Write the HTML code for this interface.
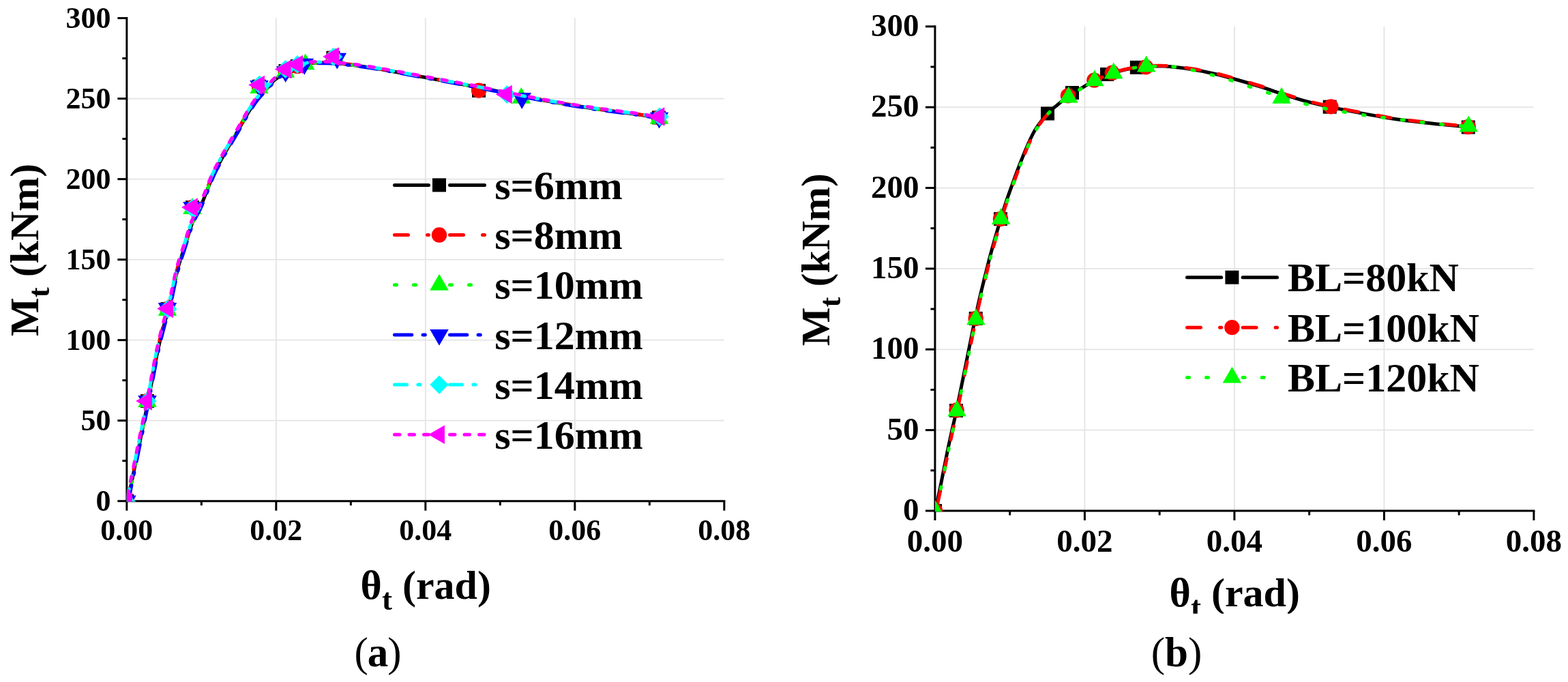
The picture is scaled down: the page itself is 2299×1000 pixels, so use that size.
<!DOCTYPE html>
<html><head><meta charset="utf-8"><title>Moment-rotation curves</title>
<style>html,body{margin:0;padding:0;background:#fff;}svg{display:block;}text{font-family:"Liberation Serif","Times New Roman",serif;}</style>
</head><body>
<svg width="2299" height="1000" viewBox="0 0 2299 1000">
<defs>
<clipPath id="cl"><rect x="185.85" y="0" width="896.15" height="735.6"/></clipPath>
<clipPath id="cr"><rect x="1370.9" y="0" width="899.1" height="750"/></clipPath>
<clipPath id="ct"><rect x="1600" y="800" width="400" height="99.7"/></clipPath>
</defs>
<rect width="2299" height="1000" fill="#ffffff"/>
<line x1="404.85" y1="26.58" x2="404.85" y2="734.7" stroke="#e4e4e4" stroke-width="1.8"/>
<line x1="623.85" y1="26.58" x2="623.85" y2="734.7" stroke="#e4e4e4" stroke-width="1.8"/>
<line x1="842.85" y1="26.58" x2="842.85" y2="734.7" stroke="#e4e4e4" stroke-width="1.8"/>
<line x1="185.85" y1="616.68" x2="1061.85" y2="616.68" stroke="#e4e4e4" stroke-width="1.8"/>
<line x1="185.85" y1="498.66" x2="1061.85" y2="498.66" stroke="#e4e4e4" stroke-width="1.8"/>
<line x1="185.85" y1="380.64" x2="1061.85" y2="380.64" stroke="#e4e4e4" stroke-width="1.8"/>
<line x1="185.85" y1="262.62" x2="1061.85" y2="262.62" stroke="#e4e4e4" stroke-width="1.8"/>
<line x1="185.85" y1="144.6" x2="1061.85" y2="144.6" stroke="#e4e4e4" stroke-width="1.8"/>
<line x1="1590.4" y1="38.84" x2="1590.4" y2="749" stroke="#e4e4e4" stroke-width="1.8"/>
<line x1="1809.9" y1="38.84" x2="1809.9" y2="749" stroke="#e4e4e4" stroke-width="1.8"/>
<line x1="2029.4" y1="38.84" x2="2029.4" y2="749" stroke="#e4e4e4" stroke-width="1.8"/>
<line x1="1370.9" y1="630.64" x2="2248.9" y2="630.64" stroke="#e4e4e4" stroke-width="1.8"/>
<line x1="1370.9" y1="512.28" x2="2248.9" y2="512.28" stroke="#e4e4e4" stroke-width="1.8"/>
<line x1="1370.9" y1="393.92" x2="2248.9" y2="393.92" stroke="#e4e4e4" stroke-width="1.8"/>
<line x1="1370.9" y1="275.56" x2="2248.9" y2="275.56" stroke="#e4e4e4" stroke-width="1.8"/>
<line x1="1370.9" y1="157.2" x2="2248.9" y2="157.2" stroke="#e4e4e4" stroke-width="1.8"/>
<line x1="185.85" y1="26.58" x2="185.85" y2="734.7" stroke="#000" stroke-width="3" stroke-linecap="square"/>
<line x1="185.85" y1="734.7" x2="1061.85" y2="734.7" stroke="#000" stroke-width="3" stroke-linecap="square"/>
<line x1="185.85" y1="734.7" x2="185.85" y2="748.7" stroke="#000" stroke-width="3"/>
<line x1="295.35" y1="734.7" x2="295.35" y2="741.2" stroke="#000" stroke-width="3"/>
<line x1="404.85" y1="734.7" x2="404.85" y2="748.7" stroke="#000" stroke-width="3"/>
<line x1="514.35" y1="734.7" x2="514.35" y2="741.2" stroke="#000" stroke-width="3"/>
<line x1="623.85" y1="734.7" x2="623.85" y2="748.7" stroke="#000" stroke-width="3"/>
<line x1="733.35" y1="734.7" x2="733.35" y2="741.2" stroke="#000" stroke-width="3"/>
<line x1="842.85" y1="734.7" x2="842.85" y2="748.7" stroke="#000" stroke-width="3"/>
<line x1="952.35" y1="734.7" x2="952.35" y2="741.2" stroke="#000" stroke-width="3"/>
<line x1="1061.85" y1="734.7" x2="1061.85" y2="748.7" stroke="#000" stroke-width="3"/>
<line x1="172.35" y1="734.7" x2="185.85" y2="734.7" stroke="#000" stroke-width="3"/>
<line x1="179.35" y1="675.69" x2="185.85" y2="675.69" stroke="#000" stroke-width="3"/>
<line x1="172.35" y1="616.68" x2="185.85" y2="616.68" stroke="#000" stroke-width="3"/>
<line x1="179.35" y1="557.67" x2="185.85" y2="557.67" stroke="#000" stroke-width="3"/>
<line x1="172.35" y1="498.66" x2="185.85" y2="498.66" stroke="#000" stroke-width="3"/>
<line x1="179.35" y1="439.65" x2="185.85" y2="439.65" stroke="#000" stroke-width="3"/>
<line x1="172.35" y1="380.64" x2="185.85" y2="380.64" stroke="#000" stroke-width="3"/>
<line x1="179.35" y1="321.63" x2="185.85" y2="321.63" stroke="#000" stroke-width="3"/>
<line x1="172.35" y1="262.62" x2="185.85" y2="262.62" stroke="#000" stroke-width="3"/>
<line x1="179.35" y1="203.61" x2="185.85" y2="203.61" stroke="#000" stroke-width="3"/>
<line x1="172.35" y1="144.6" x2="185.85" y2="144.6" stroke="#000" stroke-width="3"/>
<line x1="179.35" y1="85.59" x2="185.85" y2="85.59" stroke="#000" stroke-width="3"/>
<line x1="172.35" y1="26.58" x2="185.85" y2="26.58" stroke="#000" stroke-width="3"/>
<line x1="1370.9" y1="38.84" x2="1370.9" y2="749" stroke="#000" stroke-width="3" stroke-linecap="square"/>
<line x1="1370.9" y1="749" x2="2248.9" y2="749" stroke="#000" stroke-width="3" stroke-linecap="square"/>
<line x1="1370.9" y1="749" x2="1370.9" y2="763" stroke="#000" stroke-width="3"/>
<line x1="1480.65" y1="749" x2="1480.65" y2="755.5" stroke="#000" stroke-width="3"/>
<line x1="1590.4" y1="749" x2="1590.4" y2="763" stroke="#000" stroke-width="3"/>
<line x1="1700.15" y1="749" x2="1700.15" y2="755.5" stroke="#000" stroke-width="3"/>
<line x1="1809.9" y1="749" x2="1809.9" y2="763" stroke="#000" stroke-width="3"/>
<line x1="1919.65" y1="749" x2="1919.65" y2="755.5" stroke="#000" stroke-width="3"/>
<line x1="2029.4" y1="749" x2="2029.4" y2="763" stroke="#000" stroke-width="3"/>
<line x1="2139.15" y1="749" x2="2139.15" y2="755.5" stroke="#000" stroke-width="3"/>
<line x1="2248.9" y1="749" x2="2248.9" y2="763" stroke="#000" stroke-width="3"/>
<line x1="1356.9" y1="749" x2="1370.9" y2="749" stroke="#000" stroke-width="3"/>
<line x1="1364.4" y1="689.82" x2="1370.9" y2="689.82" stroke="#000" stroke-width="3"/>
<line x1="1356.9" y1="630.64" x2="1370.9" y2="630.64" stroke="#000" stroke-width="3"/>
<line x1="1364.4" y1="571.46" x2="1370.9" y2="571.46" stroke="#000" stroke-width="3"/>
<line x1="1356.9" y1="512.28" x2="1370.9" y2="512.28" stroke="#000" stroke-width="3"/>
<line x1="1364.4" y1="453.1" x2="1370.9" y2="453.1" stroke="#000" stroke-width="3"/>
<line x1="1356.9" y1="393.92" x2="1370.9" y2="393.92" stroke="#000" stroke-width="3"/>
<line x1="1364.4" y1="334.74" x2="1370.9" y2="334.74" stroke="#000" stroke-width="3"/>
<line x1="1356.9" y1="275.56" x2="1370.9" y2="275.56" stroke="#000" stroke-width="3"/>
<line x1="1364.4" y1="216.38" x2="1370.9" y2="216.38" stroke="#000" stroke-width="3"/>
<line x1="1356.9" y1="157.2" x2="1370.9" y2="157.2" stroke="#000" stroke-width="3"/>
<line x1="1364.4" y1="98.02" x2="1370.9" y2="98.02" stroke="#000" stroke-width="3"/>
<line x1="1356.9" y1="38.84" x2="1370.9" y2="38.84" stroke="#000" stroke-width="3"/>
<g clip-path="url(#cl)">
<path d="M187,735.5 C189.5,723.42 197,687.42 202,663 C207,638.58 212,614.33 217,589 C222,563.67 227.08,533.5 232,511 C236.92,488.5 243.27,466.47 246.5,454 C249.73,441.53 249.92,442.37 251.4,436.2 C252.88,430.03 253.93,423.67 255.4,417 C256.87,410.33 258.73,402.07 260.2,396.2 C261.67,390.33 262.73,386.6 264.2,381.8 C265.67,377 267.53,371.93 269,367.4 C270.47,362.87 271.67,358.87 273,354.6 C274.33,350.33 275.53,346.33 277,341.8 C278.47,337.27 280.3,331.28 281.8,327.4 C283.3,323.52 283.8,322.9 286,318.5 C288.2,314.1 290.87,310.58 295,301 C299.13,291.42 306.88,270.33 310.8,261 C314.72,251.67 315.63,250.58 318.5,245 C321.37,239.42 324.7,233.42 328,227.5 C331.3,221.58 334.83,215.45 338.3,209.5 C341.77,203.55 345.52,197.47 348.8,191.8 C352.08,186.13 355,180.72 358,175.5 C361,170.28 363.58,165.58 366.8,160.5 C370.02,155.42 372.6,150.78 377.3,145 C382,139.22 390.82,130.38 395,125.8 C399.18,121.22 399.57,120.03 402.4,117.5 C405.23,114.97 408.07,113.1 412,110.6 C415.93,108.1 421.17,104.93 426,102.5 C430.83,100.07 436,97.67 441,96 C446,94.33 450.17,93.17 456,92.5 C461.83,91.83 468.5,91.83 476,92 C483.5,92.17 488.83,92.17 501,93.5 C513.17,94.83 528.17,96.58 549,100 C569.83,103.42 600.67,109.33 626,114 C651.33,118.67 673.5,122.67 701,128 C728.5,133.33 763.5,140.92 791,146 C818.5,151.08 842.33,154.92 866,158.5 C889.67,162.08 916.08,165.08 933,167.5 C949.92,169.92 961.75,172.08 967.5,173" fill="none" stroke="#000000" stroke-width="5" stroke-linecap="round" stroke-linejoin="round"/>
<rect x="176" y="724.5" width="20" height="20" fill="#000000"/>
<rect x="206" y="578" width="20" height="20" fill="#000000"/>
<rect x="235.5" y="443" width="20" height="20" fill="#000000"/>
<rect x="272" y="294" width="20" height="20" fill="#000000"/>
<rect x="370" y="116.7" width="20" height="20" fill="#000000"/>
<rect x="408.5" y="94" width="20" height="20" fill="#000000"/>
<rect x="426" y="87" width="20" height="20" fill="#000000"/>
<rect x="478.5" y="74.7" width="20" height="20" fill="#000000"/>
<rect x="692" y="122.9" width="20" height="20" fill="#000000"/>
<rect x="955.9" y="162.4" width="20" height="20" fill="#000000"/>
<path d="M186.3,735 C188.8,722.92 196.3,686.92 201.3,662.5 C206.3,638.08 211.3,613.83 216.3,588.5 C221.3,563.17 226.38,533 231.3,510.5 C236.22,488 242.57,465.97 245.8,453.5 C249.03,441.03 249.22,441.87 250.7,435.7 C252.18,429.53 253.23,423.17 254.7,416.5 C256.17,409.83 258.03,401.57 259.5,395.7 C260.97,389.83 262.03,386.1 263.5,381.3 C264.97,376.5 266.83,371.43 268.3,366.9 C269.77,362.37 270.97,358.37 272.3,354.1 C273.63,349.83 274.83,345.83 276.3,341.3 C277.77,336.77 279.6,330.78 281.1,326.9 C282.6,323.02 283.1,322.4 285.3,318 C287.5,313.6 290.17,310.08 294.3,300.5 C298.43,290.92 306.18,269.83 310.1,260.5 C314.02,251.17 314.93,250.08 317.8,244.5 C320.67,238.92 324,232.92 327.3,227 C330.6,221.08 334.13,214.95 337.6,209 C341.07,203.05 344.82,196.97 348.1,191.3 C351.38,185.63 354.3,180.22 357.3,175 C360.3,169.78 362.88,165.08 366.1,160 C369.32,154.92 371.9,150.28 376.6,144.5 C381.3,138.72 390.12,129.88 394.3,125.3 C398.48,120.72 398.87,119.53 401.7,117 C404.53,114.47 407.37,112.6 411.3,110.1 C415.23,107.6 420.47,104.43 425.3,102 C430.13,99.57 435.3,97.17 440.3,95.5 C445.3,93.83 449.47,92.67 455.3,92 C461.13,91.33 467.8,91.33 475.3,91.5 C482.8,91.67 488.13,91.67 500.3,93 C512.47,94.33 527.47,96.08 548.3,99.5 C569.13,102.92 599.97,108.83 625.3,113.5 C650.63,118.17 672.8,122.17 700.3,127.5 C727.8,132.83 762.8,140.42 790.3,145.5 C817.8,150.58 841.63,154.42 865.3,158 C888.97,161.58 915.38,164.58 932.3,167 C949.22,169.42 961.05,171.58 966.8,172.5" fill="none" stroke="#ff0000" stroke-width="5" stroke-linecap="round" stroke-linejoin="round" stroke-dasharray="20 28"/>
<circle cx="186" cy="734.5" r="11.2" fill="#ff0000"/>
<circle cx="216" cy="588" r="11.2" fill="#ff0000"/>
<circle cx="245.5" cy="453" r="11.2" fill="#ff0000"/>
<circle cx="282" cy="304" r="11.2" fill="#ff0000"/>
<circle cx="380" cy="126.7" r="11.2" fill="#ff0000"/>
<circle cx="418.5" cy="104" r="11.2" fill="#ff0000"/>
<circle cx="436" cy="97" r="11.2" fill="#ff0000"/>
<circle cx="488.5" cy="84.7" r="11.2" fill="#ff0000"/>
<circle cx="702.1" cy="132.6" r="11.2" fill="#ff0000"/>
<circle cx="966" cy="172.4" r="11.2" fill="#ff0000"/>
<path d="M186.8,735.5 C189.3,723.42 196.8,687.42 201.8,663 C206.8,638.58 211.8,614.33 216.8,589 C221.8,563.67 226.88,533.5 231.8,511 C236.72,488.5 243.07,466.47 246.3,454 C249.53,441.53 249.72,442.37 251.2,436.2 C252.68,430.03 253.73,423.67 255.2,417 C256.67,410.33 258.53,402.07 260,396.2 C261.47,390.33 262.53,386.6 264,381.8 C265.47,377 267.33,371.93 268.8,367.4 C270.27,362.87 271.47,358.87 272.8,354.6 C274.13,350.33 275.33,346.33 276.8,341.8 C278.27,337.27 280.1,331.28 281.6,327.4 C283.1,323.52 283.6,322.9 285.8,318.5 C288,314.1 290.67,310.58 294.8,301 C298.93,291.42 306.68,270.33 310.6,261 C314.52,251.67 315.43,250.58 318.3,245 C321.17,239.42 324.5,233.42 327.8,227.5 C331.1,221.58 334.63,215.45 338.1,209.5 C341.57,203.55 345.32,197.47 348.6,191.8 C351.88,186.13 354.8,180.72 357.8,175.5 C360.8,170.28 363.38,165.58 366.6,160.5 C369.82,155.42 372.4,150.78 377.1,145 C381.8,139.22 390.62,130.38 394.8,125.8 C398.98,121.22 399.37,120.03 402.2,117.5 C405.03,114.97 407.87,113.1 411.8,110.6 C415.73,108.1 420.97,104.93 425.8,102.5 C430.63,100.07 435.8,97.67 440.8,96 C445.8,94.33 449.97,93.17 455.8,92.5 C461.63,91.83 468.3,91.83 475.8,92 C483.3,92.17 488.63,92.17 500.8,93.5 C512.97,94.83 527.97,96.58 548.8,100 C569.63,103.42 600.47,109.33 625.8,114 C651.13,118.67 673.3,122.67 700.8,128 C728.3,133.33 763.3,140.92 790.8,146 C818.3,151.08 842.13,154.92 865.8,158.5 C889.47,162.08 915.88,165.08 932.8,167.5 C949.72,169.92 961.55,172.08 967.3,173" fill="none" stroke="#00ff00" stroke-width="5" stroke-linecap="round" stroke-linejoin="round" stroke-dasharray="3 25"/>
<polygon points="186,718.62 199.75,742.44 172.25,742.44" fill="#00ff00"/>
<polygon points="216,573.12 229.75,596.94 202.25,596.94" fill="#00ff00"/>
<polygon points="245.5,439.12 259.25,462.94 231.75,462.94" fill="#00ff00"/>
<polygon points="282,290.12 295.75,313.94 268.25,313.94" fill="#00ff00"/>
<polygon points="380,113.12 393.75,136.94 366.25,136.94" fill="#00ff00"/>
<polygon points="418.3,89.72 432.05,113.54 404.55,113.54" fill="#00ff00"/>
<polygon points="447.7,78.52 461.45,102.34 433.95,102.34" fill="#00ff00"/>
<polygon points="492,70.12 505.75,93.94 478.25,93.94" fill="#00ff00"/>
<polygon points="764.3,128.02 778.05,151.84 750.55,151.84" fill="#00ff00"/>
<polygon points="966.5,157.82 980.25,181.64 952.75,181.64" fill="#00ff00"/>
<path d="M187.8,736.3 C190.3,724.22 197.8,688.22 202.8,663.8 C207.8,639.38 212.8,615.13 217.8,589.8 C222.8,564.47 227.88,534.3 232.8,511.8 C237.72,489.3 244.07,467.27 247.3,454.8 C250.53,442.33 250.72,443.17 252.2,437 C253.68,430.83 254.73,424.47 256.2,417.8 C257.67,411.13 259.53,402.87 261,397 C262.47,391.13 263.53,387.4 265,382.6 C266.47,377.8 268.33,372.73 269.8,368.2 C271.27,363.67 272.47,359.67 273.8,355.4 C275.13,351.13 276.33,347.13 277.8,342.6 C279.27,338.07 281.1,332.08 282.6,328.2 C284.1,324.32 284.6,323.7 286.8,319.3 C289,314.9 291.67,311.38 295.8,301.8 C299.93,292.22 307.68,271.13 311.6,261.8 C315.52,252.47 316.43,251.38 319.3,245.8 C322.17,240.22 325.5,234.22 328.8,228.3 C332.1,222.38 335.63,216.25 339.1,210.3 C342.57,204.35 346.32,198.27 349.6,192.6 C352.88,186.93 355.8,181.52 358.8,176.3 C361.8,171.08 364.38,166.38 367.6,161.3 C370.82,156.22 373.4,151.58 378.1,145.8 C382.8,140.02 391.62,131.18 395.8,126.6 C399.98,122.02 400.37,120.83 403.2,118.3 C406.03,115.77 408.87,113.9 412.8,111.4 C416.73,108.9 421.97,105.73 426.8,103.3 C431.63,100.87 436.8,98.47 441.8,96.8 C446.8,95.13 450.97,93.97 456.8,93.3 C462.63,92.63 469.3,92.63 476.8,92.8 C484.3,92.97 489.63,92.97 501.8,94.3 C513.97,95.63 528.97,97.38 549.8,100.8 C570.63,104.22 601.47,110.13 626.8,114.8 C652.13,119.47 674.3,123.47 701.8,128.8 C729.3,134.13 764.3,141.72 791.8,146.8 C819.3,151.88 843.13,155.72 866.8,159.3 C890.47,162.88 916.88,165.88 933.8,168.3 C950.72,170.72 962.55,172.88 968.3,173.8" fill="none" stroke="#0000ff" stroke-width="5" stroke-linecap="round" stroke-linejoin="round" stroke-dasharray="25.3 16.3 3.2 16.3"/>
<polygon points="186,750.28 199.75,726.46 172.25,726.46" fill="#0000ff"/>
<polygon points="216,603.88 229.75,580.06 202.25,580.06" fill="#0000ff"/>
<polygon points="245.5,467.88 259.25,444.06 231.75,444.06" fill="#0000ff"/>
<polygon points="282,319.88 295.75,296.06 268.25,296.06" fill="#0000ff"/>
<polygon points="380,141.88 393.75,118.06 366.25,118.06" fill="#0000ff"/>
<polygon points="418.7,120.98 432.45,97.16 404.95,97.16" fill="#0000ff"/>
<polygon points="446.3,109.68 460.05,85.86 432.55,85.86" fill="#0000ff"/>
<polygon points="494.3,101.58 508.05,77.76 480.55,77.76" fill="#0000ff"/>
<polygon points="765.2,159.88 778.95,136.06 751.45,136.06" fill="#0000ff"/>
<polygon points="966.5,188.58 980.25,164.76 952.75,164.76" fill="#0000ff"/>
<path d="M185.7,734.5 C188.2,722.42 195.7,686.42 200.7,662 C205.7,637.58 210.7,613.33 215.7,588 C220.7,562.67 225.78,532.5 230.7,510 C235.62,487.5 241.97,465.47 245.2,453 C248.43,440.53 248.62,441.37 250.1,435.2 C251.58,429.03 252.63,422.67 254.1,416 C255.57,409.33 257.43,401.07 258.9,395.2 C260.37,389.33 261.43,385.6 262.9,380.8 C264.37,376 266.23,370.93 267.7,366.4 C269.17,361.87 270.37,357.87 271.7,353.6 C273.03,349.33 274.23,345.33 275.7,340.8 C277.17,336.27 279,330.28 280.5,326.4 C282,322.52 282.5,321.9 284.7,317.5 C286.9,313.1 289.57,309.58 293.7,300 C297.83,290.42 305.58,269.33 309.5,260 C313.42,250.67 314.33,249.58 317.2,244 C320.07,238.42 323.4,232.42 326.7,226.5 C330,220.58 333.53,214.45 337,208.5 C340.47,202.55 344.22,196.47 347.5,190.8 C350.78,185.13 353.7,179.72 356.7,174.5 C359.7,169.28 362.28,164.58 365.5,159.5 C368.72,154.42 371.3,149.78 376,144 C380.7,138.22 389.52,129.38 393.7,124.8 C397.88,120.22 398.27,119.03 401.1,116.5 C403.93,113.97 406.77,112.1 410.7,109.6 C414.63,107.1 419.87,103.93 424.7,101.5 C429.53,99.07 434.7,96.67 439.7,95 C444.7,93.33 448.87,92.17 454.7,91.5 C460.53,90.83 467.2,90.83 474.7,91 C482.2,91.17 487.53,91.17 499.7,92.5 C511.87,93.83 526.87,95.58 547.7,99 C568.53,102.42 599.37,108.33 624.7,113 C650.03,117.67 672.2,121.67 699.7,127 C727.2,132.33 762.2,139.92 789.7,145 C817.2,150.08 841.03,153.92 864.7,157.5 C888.37,161.08 914.78,164.08 931.7,166.5 C948.62,168.92 960.45,171.08 966.2,172" fill="none" stroke="#00ffff" stroke-width="5" stroke-linecap="round" stroke-linejoin="round" stroke-dasharray="18 16.4 3.1 16.4"/>
<polygon points="186.3,722.4 199.9,736 186.3,749.6 172.7,736" fill="#00ffff"/>
<polygon points="216,574.4 229.6,588 216,601.6 202.4,588" fill="#00ffff"/>
<polygon points="246,439.4 259.6,453 246,466.6 232.4,453" fill="#00ffff"/>
<polygon points="282,291.4 295.6,305 282,318.6 268.4,305" fill="#00ffff"/>
<polygon points="380.4,110.4 394,124 380.4,137.6 366.8,124" fill="#00ffff"/>
<polygon points="418.5,87.9 432.1,101.5 418.5,115.1 404.9,101.5" fill="#00ffff"/>
<polygon points="436,80.9 449.6,94.5 436,108.1 422.4,94.5" fill="#00ffff"/>
<polygon points="488.7,69.7 502.3,83.3 488.7,96.9 475.1,83.3" fill="#00ffff"/>
<polygon points="743.3,124.9 756.9,138.5 743.3,152.1 729.7,138.5" fill="#00ffff"/>
<polygon points="967.3,157.4 980.9,171 967.3,184.6 953.7,171" fill="#00ffff"/>
<path d="M185.5,734 C188,721.92 195.5,685.92 200.5,661.5 C205.5,637.08 210.5,612.83 215.5,587.5 C220.5,562.17 225.58,532 230.5,509.5 C235.42,487 241.77,464.97 245,452.5 C248.23,440.03 248.42,440.87 249.9,434.7 C251.38,428.53 252.43,422.17 253.9,415.5 C255.37,408.83 257.23,400.57 258.7,394.7 C260.17,388.83 261.23,385.1 262.7,380.3 C264.17,375.5 266.03,370.43 267.5,365.9 C268.97,361.37 270.17,357.37 271.5,353.1 C272.83,348.83 274.03,344.83 275.5,340.3 C276.97,335.77 278.8,329.78 280.3,325.9 C281.8,322.02 282.3,321.4 284.5,317 C286.7,312.6 289.37,309.08 293.5,299.5 C297.63,289.92 305.38,268.83 309.3,259.5 C313.22,250.17 314.13,249.08 317,243.5 C319.87,237.92 323.2,231.92 326.5,226 C329.8,220.08 333.33,213.95 336.8,208 C340.27,202.05 344.02,195.97 347.3,190.3 C350.58,184.63 353.5,179.22 356.5,174 C359.5,168.78 362.08,164.08 365.3,159 C368.52,153.92 371.1,149.28 375.8,143.5 C380.5,137.72 389.32,128.88 393.5,124.3 C397.68,119.72 398.07,118.53 400.9,116 C403.73,113.47 406.57,111.6 410.5,109.1 C414.43,106.6 419.67,103.43 424.5,101 C429.33,98.57 434.5,96.17 439.5,94.5 C444.5,92.83 448.67,91.67 454.5,91 C460.33,90.33 467,90.33 474.5,90.5 C482,90.67 487.33,90.67 499.5,92 C511.67,93.33 526.67,95.08 547.5,98.5 C568.33,101.92 599.17,107.83 624.5,112.5 C649.83,117.17 672,121.17 699.5,126.5 C727,131.83 762,139.42 789.5,144.5 C817,149.58 840.83,153.42 864.5,157 C888.17,160.58 914.58,163.58 931.5,166 C948.42,168.42 960.25,170.58 966,171.5" fill="none" stroke="#ff00ff" stroke-width="5" stroke-linecap="round" stroke-linejoin="round" stroke-dasharray="7.2 14.5" stroke-dashoffset="14.6"/>
<polygon points="170.12,735 193.94,721.25 193.94,748.75" fill="#ff00ff"/>
<polygon points="199.12,588 222.94,574.25 222.94,601.75" fill="#ff00ff"/>
<polygon points="230.12,452.5 253.94,438.75 253.94,466.25" fill="#ff00ff"/>
<polygon points="266.12,304 289.94,290.25 289.94,317.75" fill="#ff00ff"/>
<polygon points="364.22,124.4 388.04,110.65 388.04,138.15" fill="#ff00ff"/>
<polygon points="402.82,101.5 426.64,87.75 426.64,115.25" fill="#ff00ff"/>
<polygon points="420.32,94.5 444.14,80.75 444.14,108.25" fill="#ff00ff"/>
<polygon points="473.22,83 497.04,69.25 497.04,96.75" fill="#ff00ff"/>
<polygon points="726.92,138.5 750.74,124.75 750.74,152.25" fill="#ff00ff"/>
<polygon points="950.52,171.1 974.34,157.35 974.34,184.85" fill="#ff00ff"/>
</g>
<g clip-path="url(#cr)">
<path d="M1371,749 C1372.08,744.17 1375.42,729.83 1377.5,720 C1379.58,710.17 1381.5,700 1383.5,690 C1385.5,680 1387.42,670 1389.5,660 C1391.58,650 1393.83,639.75 1396,630 C1398.17,620.25 1399,618.17 1402.5,601.5 C1406,584.83 1411.92,554.92 1417,530 C1422.08,505.08 1428.12,474.23 1433,452 C1437.88,429.77 1442.8,410.77 1446.3,396.6 C1449.8,382.43 1451.25,377.1 1454,367 C1456.75,356.9 1459.38,347.5 1462.8,336 C1466.22,324.5 1470.9,309 1474.5,298 C1478.1,287 1481.15,279 1484.4,270 C1487.65,261 1490.4,253.25 1494,244 C1497.6,234.75 1502,223.5 1506,214.5 C1510,205.5 1513,198 1518,190 C1523,182 1530.8,172.37 1536,166.5 C1541.2,160.63 1544.2,158.97 1549.2,154.8 C1554.2,150.63 1560,145.7 1566,141.5 C1572,137.3 1578.78,133.43 1585.2,129.6 C1591.62,125.77 1596.87,122.18 1604.5,118.5 C1612.13,114.82 1623.02,110.33 1631,107.5 C1638.98,104.67 1644.23,103.12 1652.4,101.5 C1660.57,99.88 1670.9,98.53 1680,97.8 C1689.1,97.07 1695.68,96.45 1707,97.1 C1718.32,97.75 1735.43,99.8 1747.9,101.7 C1760.37,103.6 1770.5,105.87 1781.8,108.5 C1793.1,111.13 1804.4,114.3 1815.7,117.5 C1827,120.7 1838.28,124.12 1849.6,127.7 C1860.92,131.28 1872.28,135.42 1883.6,139 C1894.92,142.58 1906.2,146.18 1917.5,149.2 C1928.8,152.22 1938.2,154.28 1951.4,157.1 C1964.6,159.92 1981.62,163.28 1996.7,166.1 C2011.78,168.92 2026.83,171.73 2041.9,174 C2056.97,176.27 2072.02,178 2087.1,179.7 C2102.18,181.4 2121.47,183.18 2132.4,184.2 C2143.33,185.22 2149.32,185.53 2152.7,185.8" fill="none" stroke="#000000" stroke-width="5" stroke-linecap="round" stroke-linejoin="round"/>
<rect x="1361" y="739" width="20" height="20" fill="#000000"/>
<rect x="1392" y="592" width="20" height="20" fill="#000000"/>
<rect x="1420.7" y="457" width="20" height="20" fill="#000000"/>
<rect x="1457" y="311" width="20" height="20" fill="#000000"/>
<rect x="1526" y="156.5" width="20" height="20" fill="#000000"/>
<rect x="1562" y="126" width="20" height="20" fill="#000000"/>
<rect x="1613" y="99" width="20" height="20" fill="#000000"/>
<rect x="1656.8" y="88.9" width="20" height="20" fill="#000000"/>
<rect x="1939.7" y="146.7" width="20" height="20" fill="#000000"/>
<rect x="2142.8" y="176.5" width="20" height="20" fill="#000000"/>
<path d="M1372.4,748.3 C1373.48,743.47 1376.82,729.13 1378.9,719.3 C1380.98,709.47 1382.9,699.3 1384.9,689.3 C1386.9,679.3 1388.82,669.3 1390.9,659.3 C1392.98,649.3 1395.23,639.05 1397.4,629.3 C1399.57,619.55 1400.4,617.47 1403.9,600.8 C1407.4,584.13 1413.32,554.22 1418.4,529.3 C1423.48,504.38 1429.52,473.53 1434.4,451.3 C1439.28,429.07 1444.2,410.07 1447.7,395.9 C1451.2,381.73 1452.65,376.4 1455.4,366.3 C1458.15,356.2 1460.78,346.8 1464.2,335.3 C1467.62,323.8 1472.3,308.3 1475.9,297.3 C1479.5,286.3 1482.55,278.3 1485.8,269.3 C1489.05,260.3 1491.8,252.55 1495.4,243.3 C1499,234.05 1503.4,222.8 1507.4,213.8 C1511.4,204.8 1514.4,197.3 1519.4,189.3 C1524.4,181.3 1532.2,171.67 1537.4,165.8 C1542.6,159.93 1545.6,158.27 1550.6,154.1 C1555.6,149.93 1561.4,145 1567.4,140.8 C1573.4,136.6 1580.18,132.73 1586.6,128.9 C1593.02,125.07 1598.27,121.48 1605.9,117.8 C1613.53,114.12 1624.42,109.63 1632.4,106.8 C1640.38,103.97 1645.63,102.42 1653.8,100.8 C1661.97,99.18 1672.3,97.83 1681.4,97.1 C1690.5,96.37 1697.08,95.75 1708.4,96.4 C1719.72,97.05 1736.83,99.1 1749.3,101 C1761.77,102.9 1771.9,105.17 1783.2,107.8 C1794.5,110.43 1805.8,113.6 1817.1,116.8 C1828.4,120 1839.68,123.42 1851,127 C1862.32,130.58 1873.68,134.72 1885,138.3 C1896.32,141.88 1907.6,145.48 1918.9,148.5 C1930.2,151.52 1939.6,153.58 1952.8,156.4 C1966,159.22 1983.02,162.58 1998.1,165.4 C2013.18,168.22 2028.23,171.03 2043.3,173.3 C2058.37,175.57 2073.42,177.3 2088.5,179 C2103.58,180.7 2122.87,182.48 2133.8,183.5 C2144.73,184.52 2150.72,184.83 2154.1,185.1" fill="none" stroke="#ff0000" stroke-width="5" stroke-linecap="round" stroke-linejoin="round" stroke-dasharray="20 28.25" stroke-dashoffset="38.99"/>
<circle cx="1371" cy="749" r="11.2" fill="#ff0000"/>
<circle cx="1402.5" cy="601.5" r="11.2" fill="#ff0000"/>
<circle cx="1430.7" cy="467" r="11.2" fill="#ff0000"/>
<circle cx="1467" cy="321" r="11.2" fill="#ff0000"/>
<circle cx="1566" cy="140.4" r="11.2" fill="#ff0000"/>
<circle cx="1604.4" cy="117.6" r="11.2" fill="#ff0000"/>
<circle cx="1630.8" cy="106.8" r="11.2" fill="#ff0000"/>
<circle cx="1680" cy="98.4" r="11.2" fill="#ff0000"/>
<circle cx="1951.4" cy="156.4" r="11.2" fill="#ff0000"/>
<circle cx="2152.7" cy="186" r="11.2" fill="#ff0000"/>
<path d="M1372.3,748.7 C1373.38,743.87 1376.72,729.53 1378.8,719.7 C1380.88,709.87 1382.8,699.7 1384.8,689.7 C1386.8,679.7 1388.72,669.7 1390.8,659.7 C1392.88,649.7 1395.13,639.45 1397.3,629.7 C1399.47,619.95 1400.3,617.87 1403.8,601.2 C1407.3,584.53 1413.22,554.62 1418.3,529.7 C1423.38,504.78 1429.42,473.93 1434.3,451.7 C1439.18,429.47 1444.1,410.47 1447.6,396.3 C1451.1,382.13 1452.55,376.8 1455.3,366.7 C1458.05,356.6 1460.68,347.2 1464.1,335.7 C1467.52,324.2 1472.2,308.7 1475.8,297.7 C1479.4,286.7 1482.45,278.7 1485.7,269.7 C1488.95,260.7 1491.7,252.95 1495.3,243.7 C1498.9,234.45 1503.3,223.2 1507.3,214.2 C1511.3,205.2 1514.3,197.7 1519.3,189.7 C1524.3,181.7 1532.1,172.07 1537.3,166.2 C1542.5,160.33 1545.5,158.67 1550.5,154.5 C1555.5,150.33 1561.3,145.4 1567.3,141.2 C1573.3,137 1580.08,133.13 1586.5,129.3 C1592.92,125.47 1598.17,121.88 1605.8,118.2 C1613.43,114.52 1624.32,110.03 1632.3,107.2 C1640.28,104.37 1645.53,102.82 1653.7,101.2 C1661.87,99.58 1669.73,98.03 1681.3,97.5 C1692.87,96.97 1711.6,97.05 1723.1,98 C1734.6,98.95 1741.05,101.13 1750.3,103.2 C1759.55,105.27 1769.18,107.88 1778.6,110.4 C1788.02,112.92 1797.38,115.35 1806.8,118.3 C1816.22,121.25 1825.85,124.97 1835.1,128.1 C1844.35,131.23 1854.77,134.63 1862.3,137.1 C1869.83,139.57 1871.07,140.18 1880.3,142.9 C1889.53,145.62 1906.77,150.6 1917.7,153.4 C1928.63,156.2 1936.48,157.82 1945.9,159.7 C1955.32,161.58 1964.77,163.12 1974.2,164.7 C1983.63,166.28 1991,167.62 2002.5,169.2 C2014,170.78 2028.88,172.45 2043.2,174.2 C2057.52,175.95 2073.32,178.05 2088.4,179.7 C2103.48,181.35 2122.77,183.17 2133.7,184.1 C2144.63,185.03 2150.62,185.1 2154,185.3" fill="none" stroke="#00ff00" stroke-width="5" stroke-linecap="round" stroke-linejoin="round" stroke-dasharray="3 25.8" stroke-dashoffset="24.9"/>
<polygon points="1371,733.12 1384.75,756.94 1357.25,756.94" fill="#00ff00"/>
<polygon points="1403,586.62 1416.75,610.44 1389.25,610.44" fill="#00ff00"/>
<polygon points="1430.9,452.32 1444.65,476.14 1417.15,476.14" fill="#00ff00"/>
<polygon points="1467.6,305.12 1481.35,328.94 1453.85,328.94" fill="#00ff00"/>
<polygon points="1566.7,126.82 1580.45,150.64 1552.95,150.64" fill="#00ff00"/>
<polygon points="1604.9,102.42 1618.65,126.24 1591.15,126.24" fill="#00ff00"/>
<polygon points="1632.7,91.62 1646.45,115.44 1618.95,115.44" fill="#00ff00"/>
<polygon points="1680.7,81.62 1694.45,105.44 1666.95,105.44" fill="#00ff00"/>
<polygon points="1879,127.82 1892.75,151.64 1865.25,151.64" fill="#00ff00"/>
<polygon points="2153.2,169.52 2166.95,193.34 2139.45,193.34" fill="#00ff00"/>
</g>
<text x="162.5" y="748.7" font-size="44" text-anchor="end" font-weight="bold">0</text>
<text x="162.5" y="630.68" font-size="44" text-anchor="end" font-weight="bold">50</text>
<text x="162.5" y="512.66" font-size="44" text-anchor="end" font-weight="bold">100</text>
<text x="162.5" y="394.64" font-size="44" text-anchor="end" font-weight="bold">150</text>
<text x="162.5" y="276.62" font-size="44" text-anchor="end" font-weight="bold">200</text>
<text x="162.5" y="158.6" font-size="44" text-anchor="end" font-weight="bold">250</text>
<text x="162.5" y="40.58" font-size="44" text-anchor="end" font-weight="bold">300</text>
<text x="185.85" y="791.5" font-size="44" text-anchor="middle" font-weight="bold">0.00</text>
<text x="404.85" y="791.5" font-size="44" text-anchor="middle" font-weight="bold">0.02</text>
<text x="623.85" y="791.5" font-size="44" text-anchor="middle" font-weight="bold">0.04</text>
<text x="842.85" y="791.5" font-size="44" text-anchor="middle" font-weight="bold">0.06</text>
<text x="1061.85" y="791.5" font-size="44" text-anchor="middle" font-weight="bold">0.08</text>
<text x="1347.5" y="763" font-size="47" text-anchor="end" font-weight="bold">0</text>
<text x="1347.5" y="644.64" font-size="47" text-anchor="end" font-weight="bold">50</text>
<text x="1347.5" y="526.28" font-size="47" text-anchor="end" font-weight="bold">100</text>
<text x="1347.5" y="407.92" font-size="47" text-anchor="end" font-weight="bold">150</text>
<text x="1347.5" y="289.56" font-size="47" text-anchor="end" font-weight="bold">200</text>
<text x="1347.5" y="171.2" font-size="47" text-anchor="end" font-weight="bold">250</text>
<text x="1347.5" y="52.84" font-size="47" text-anchor="end" font-weight="bold">300</text>
<text x="1370.9" y="809" font-size="47" text-anchor="middle" font-weight="bold">0.00</text>
<text x="1590.4" y="809" font-size="47" text-anchor="middle" font-weight="bold">0.02</text>
<text x="1809.9" y="809" font-size="47" text-anchor="middle" font-weight="bold">0.04</text>
<text x="2029.4" y="809" font-size="47" text-anchor="middle" font-weight="bold">0.06</text>
<text x="2248.9" y="809" font-size="47" text-anchor="middle" font-weight="bold">0.08</text>
<text transform="translate(56.3,493) rotate(-90)" font-size="60" font-weight="bold">M<tspan font-size="45" dy="16">t</tspan><tspan dy="-16"> (kNm)</tspan></text>
<text transform="translate(1216.4,507.2) rotate(-90)" font-size="60" font-weight="bold">M<tspan font-size="45" dy="16">t</tspan><tspan dy="-16"> (kNm)</tspan></text>
<text x="528.6" y="877.5" font-size="60" font-weight="bold">&#952;<tspan font-size="45" dy="16">t</tspan><tspan dy="-16"> (rad)</tspan></text>
<g clip-path="url(#ct)"><text x="1714.6" y="889" font-size="60" font-weight="bold">&#952;<tspan font-size="45" dy="16">t</tspan><tspan dy="-16"> (rad)</tspan></text></g>
<path d="M578.5,271.4 H628.5" fill="none" stroke="#000000" stroke-width="5" stroke-linecap="round"/>
<path d="M659.5,271.4 H710.5" fill="none" stroke="#000000" stroke-width="5" stroke-linecap="round"/>
<rect x="634" y="261.4" width="20" height="20" fill="#000000"/>
<text x="725.2" y="292.1" font-size="60" text-anchor="start" font-weight="bold">s=6mm</text>
<path d="M578.5,344.56 H628.5" fill="none" stroke="#ff0000" stroke-width="5" stroke-linecap="round" stroke-dasharray="20 28"/>
<path d="M659.5,344.56 H710.5" fill="none" stroke="#ff0000" stroke-width="5" stroke-linecap="round" stroke-dasharray="20 28"/>
<circle cx="644" cy="344.56" r="11.2" fill="#ff0000"/>
<text x="725.2" y="365.26" font-size="60" text-anchor="start" font-weight="bold">s=8mm</text>
<path d="M578.5,417.72 H628.5" fill="none" stroke="#00ff00" stroke-width="5" stroke-linecap="round" stroke-dasharray="3 25"/>
<path d="M659.5,417.72 H710.5" fill="none" stroke="#00ff00" stroke-width="5" stroke-linecap="round" stroke-dasharray="3 25"/>
<polygon points="644,401.84 657.75,425.66 630.25,425.66" fill="#00ff00"/>
<text x="725.2" y="438.42" font-size="60" text-anchor="start" font-weight="bold">s=10mm</text>
<path d="M578.5,490.88 H628.5" fill="none" stroke="#0000ff" stroke-width="5" stroke-linecap="round" stroke-dasharray="25.3 16.3 3.2 16.3"/>
<path d="M659.5,490.88 H710.5" fill="none" stroke="#0000ff" stroke-width="5" stroke-linecap="round" stroke-dasharray="25.3 16.3 3.2 16.3"/>
<polygon points="644,506.76 657.75,482.94 630.25,482.94" fill="#0000ff"/>
<text x="725.2" y="511.58" font-size="60" text-anchor="start" font-weight="bold">s=12mm</text>
<path d="M578.5,564.04 H628.5" fill="none" stroke="#00ffff" stroke-width="5" stroke-linecap="round" stroke-dasharray="18 16.4 3.1 16.4"/>
<path d="M659.5,564.04 H710.5" fill="none" stroke="#00ffff" stroke-width="5" stroke-linecap="round" stroke-dasharray="18 16.4 3.1 16.4"/>
<polygon points="644,550.44 657.6,564.04 644,577.64 630.4,564.04" fill="#00ffff"/>
<text x="725.2" y="584.74" font-size="60" text-anchor="start" font-weight="bold">s=14mm</text>
<path d="M578.5,637.2 H628.5" fill="none" stroke="#ff00ff" stroke-width="5" stroke-linecap="round" stroke-dasharray="7.5 14"/>
<path d="M659.5,637.2 H710.5" fill="none" stroke="#ff00ff" stroke-width="5" stroke-linecap="round" stroke-dasharray="7.5 14"/>
<polygon points="628.12,637.2 651.94,623.45 651.94,650.95" fill="#ff00ff"/>
<text x="725.2" y="657.9" font-size="60" text-anchor="start" font-weight="bold">s=16mm</text>
<path d="M1740.5,406.7 H1790.7" fill="none" stroke="#000000" stroke-width="5" stroke-linecap="round"/>
<path d="M1822.1,406.7 H1872.5" fill="none" stroke="#000000" stroke-width="5" stroke-linecap="round"/>
<rect x="1796.4" y="396.7" width="20" height="20" fill="#000000"/>
<text x="1888" y="427.4" font-size="60" text-anchor="start" font-weight="bold">BL=80kN</text>
<path d="M1740.5,480.15 H1790.7" fill="none" stroke="#ff0000" stroke-width="5" stroke-linecap="round" stroke-dasharray="20 28"/>
<path d="M1822.1,480.15 H1872.5" fill="none" stroke="#ff0000" stroke-width="5" stroke-linecap="round" stroke-dasharray="20 28"/>
<circle cx="1806.4" cy="480.15" r="11.2" fill="#ff0000"/>
<text x="1888" y="500.85" font-size="60" text-anchor="start" font-weight="bold">BL=100kN</text>
<path d="M1740.5,553.6 H1790.7" fill="none" stroke="#00ff00" stroke-width="5" stroke-linecap="round" stroke-dasharray="3 25"/>
<path d="M1822.1,553.6 H1872.5" fill="none" stroke="#00ff00" stroke-width="5" stroke-linecap="round" stroke-dasharray="3 25"/>
<polygon points="1806.4,537.72 1820.15,561.54 1792.65,561.54" fill="#00ff00"/>
<text x="1888" y="574.3" font-size="60" text-anchor="start" font-weight="bold">BL=120kN</text>
<text x="519.5" y="977" font-size="61" letter-spacing="-1">(<tspan font-weight="bold">a</tspan>)</text>
<text x="1687.7" y="977" font-size="61">(<tspan font-weight="bold">b</tspan>)</text>
</svg>
</body></html>
